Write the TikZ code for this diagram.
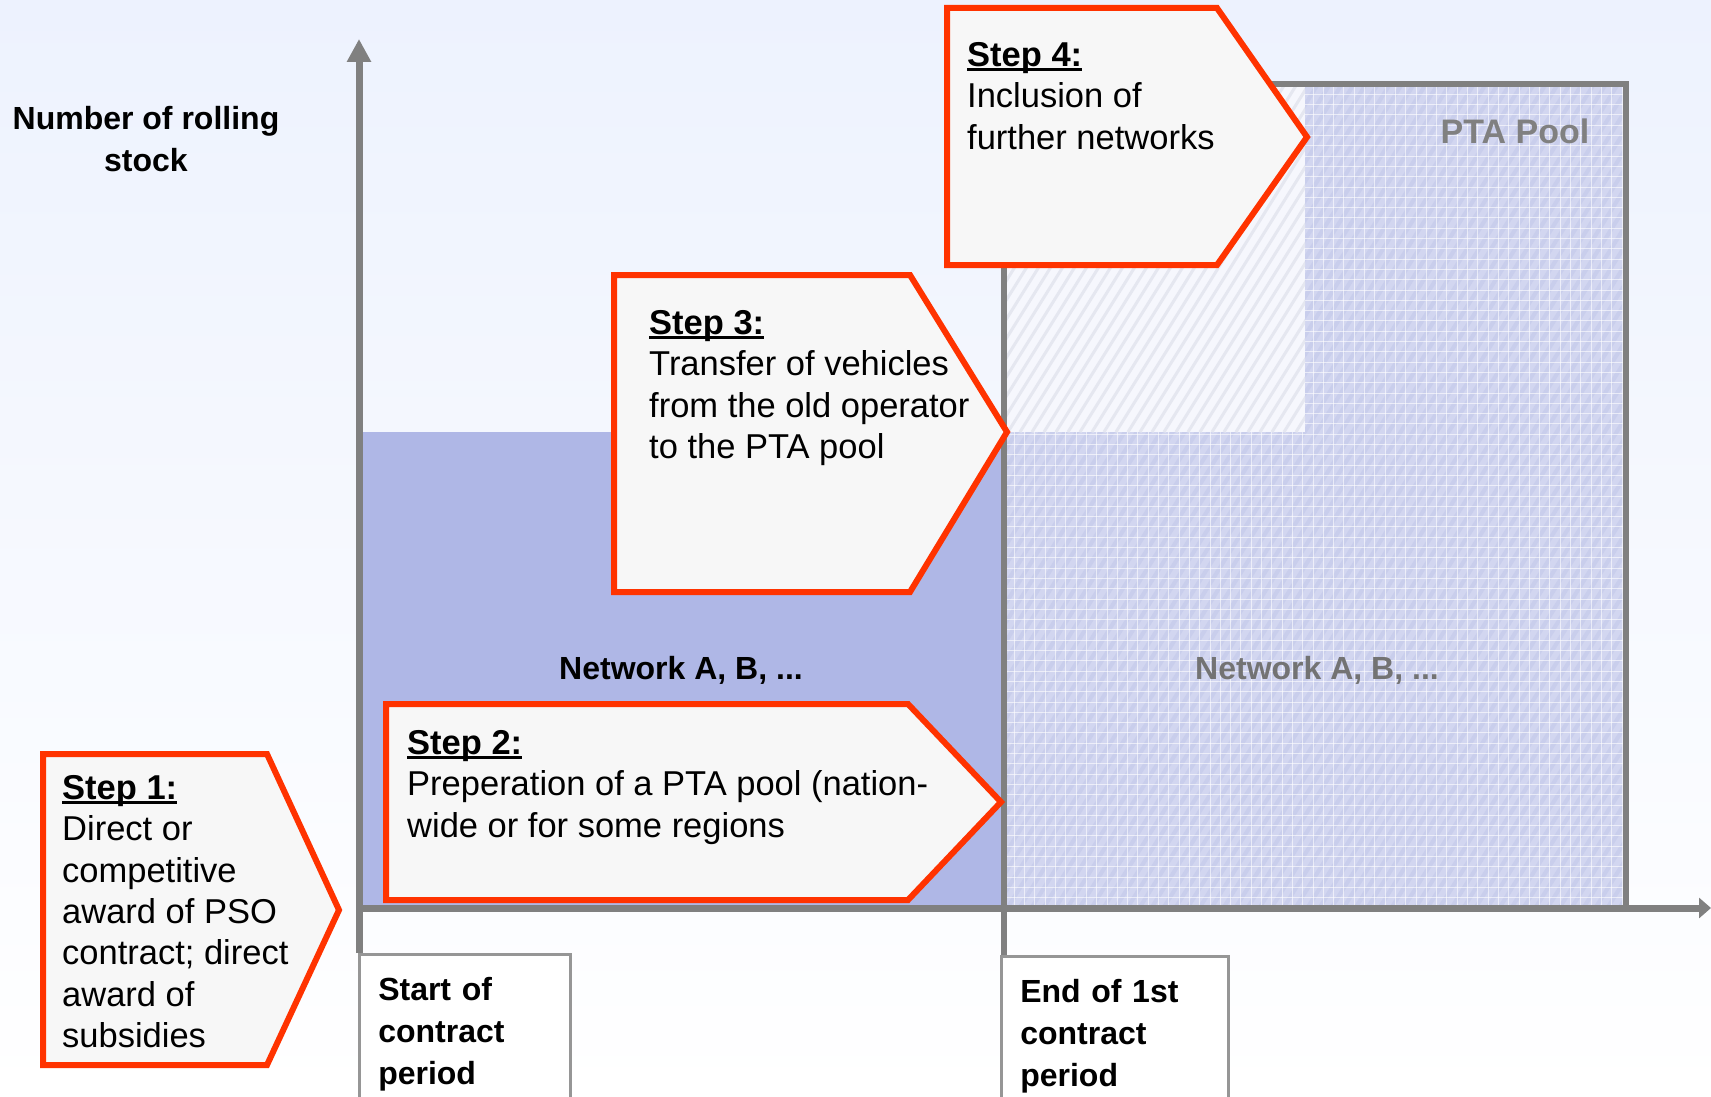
\documentclass[tikz,border=0pt]{standalone}
\usepackage{fontspec}
\setmainfont{Liberation Sans}
\usepackage{xcolor}
\usepackage{tikz}
\usetikzlibrary{arrows.meta,positioning,calc}

\definecolor{bgtop}{RGB}{237,242,254}
\definecolor{stepred}{RGB}{255,51,0}
\definecolor{stepfill}{RGB}{247,247,247}
\definecolor{netblue}{RGB}{175,183,230}
\definecolor{poolblue}{RGB}{210,214,240}
\definecolor{poolstripe}{RGB}{201,206,236}
\definecolor{hatchbg}{RGB}{246,247,253}
\definecolor{hatchline}{RGB}{229,231,240}
\definecolor{axisgray}{RGB}{128,128,128}
\definecolor{boxgray}{RGB}{150,150,150}

% underlined bold heading of a step
\newcommand{\stepul}[1]{\setbox0\hbox{\bfseries #1}\rlap{\rule[-4.5pt]{\wd0}{2.4pt}}\box0}

\begin{document}
\begin{tikzpicture}[x=1pt,y=-1pt,
  steparrow/.style={draw=stepred,line width=6pt,fill=stepfill,line join=miter},
  steptext/.style={anchor=north west,inner sep=0pt,align=left,
                   font=\fontsize{34.5}{41.4}\selectfont},
  axisline/.style={draw=axisgray,line width=7pt},
  datebox/.style={draw=boxgray,line width=2.5pt,fill=white,anchor=north west,
                  align=left,inner xsep=19pt,inner ysep=0pt,minimum height=160pt,
                  font=\bfseries\fontsize{32}{42}\selectfont},
  lbl/.style={font=\bfseries\fontsize{32}{43}\selectfont,align=center}]
  \useasboundingbox (0,0) rectangle (1711,1097);
  \shade[top color=bgtop,bottom color=white] (0,0) rectangle (1711,1097);

  % network area of the first contract
  \fill[netblue] (359,432) rectangle (1004,907);

  % PTA pool area
  \begin{scope}
    \clip (1004,84) rectangle (1626,907);
    \fill[poolblue] (1004,84) rectangle (1626,907);
    \foreach \x in {480,492,...,1632}
      \draw[poolstripe,line width=4pt] (\x,907) -- (\x+514,84);
    \foreach \x in {1004,1014.3,...,1626}
      \draw[white,line width=1pt,opacity=.6] (\x,84) -- (\x,907);
    \foreach \y in {84,94.3,...,907}
      \draw[white,line width=1pt,opacity=.6] (1004,\y) -- (1626,\y);
    \fill[hatchbg] (1004,84) rectangle (1305,432);
    \clip (1004,84) rectangle (1305,432);
    \foreach \x in {780,792,...,1310}
      \draw[hatchline,line width=3pt] (\x,432) -- (\x+217,84);
  \end{scope}
  \coordinate (poolsw) at (1004,907);
  \draw[axisgray,line width=6pt] (poolsw) -- (1004,84) -- (1626,84) -- (1626,907);

  \node[lbl,text=axisgray,font=\bfseries\fontsize{34}{43}\selectfont] (pool) at (1515,131) {PTA Pool};
  \node[lbl,text=axisgray!90!black] (netpool) at (1317,670) {Network A, B, ...};
  \node[lbl] (netfirst) at (681,670) {Network A, B, ...};

  % time marks
  \node[datebox,minimum width=211pt,text width=173pt] (start) at (358,953)
    {Start of\\contract\\period};
  \node[datebox,minimum width=227pt,text width=189pt] (end) at (1000,955)
    {End of 1st\\contract\\period};

  % axes
  \coordinate (ytop) at (359,39);
  \coordinate (xend) at (1711,908);
  \draw[axisline,-{Triangle[length=12pt,width=20pt]}] (start.north west |- xend) -- (xend);
  \draw[axisline,-{Triangle[length=23pt,width=23pt]}] (ytop |- start.north) -- (ytop);
  \draw[axisline,line width=6pt] (poolsw) -- (poolsw |- end.north);
  \node[lbl,anchor=north,font=\bfseries\fontsize{32}{41.5}\selectfont] (ylabel) at (146,103)
    {Number of rolling\\stock};

  % steps
  \draw[steparrow] (43,754) -- (267,754) -- (339,910) -- (267,1065) -- (43,1065) -- cycle;
  \draw[steparrow] (386,704) -- (908,704) -- (1001,802) -- (908,900) -- (386,900) -- cycle;
  \draw[steparrow] (614,275) -- (910,275) -- (1007,432) -- (910,592) -- (614,592) -- cycle;
  \draw[steparrow] (947,8) -- (1217,8) -- (1307,137) -- (1217,265) -- (947,265) -- cycle;

  \node[steptext] (step1) at (62,775)
    {\stepul{Step 1:}\\Direct or\\competitive\\award of PSO\\contract; direct\\award of\\subsidies};
  \node[steptext] (step2) at (407,730)
    {\stepul{Step 2:}\\Preperation of a PTA pool (nation-\\wide or for some regions};
  \node[steptext] (step3) at (649,310)
    {\stepul{Step 3:}\\Transfer of vehicles\\from the old operator\\to the PTA pool};
  \node[steptext] (step4) at (967,42)
    {\stepul{Step 4:}\\Inclusion of\\further networks};
\end{tikzpicture}
\end{document}
